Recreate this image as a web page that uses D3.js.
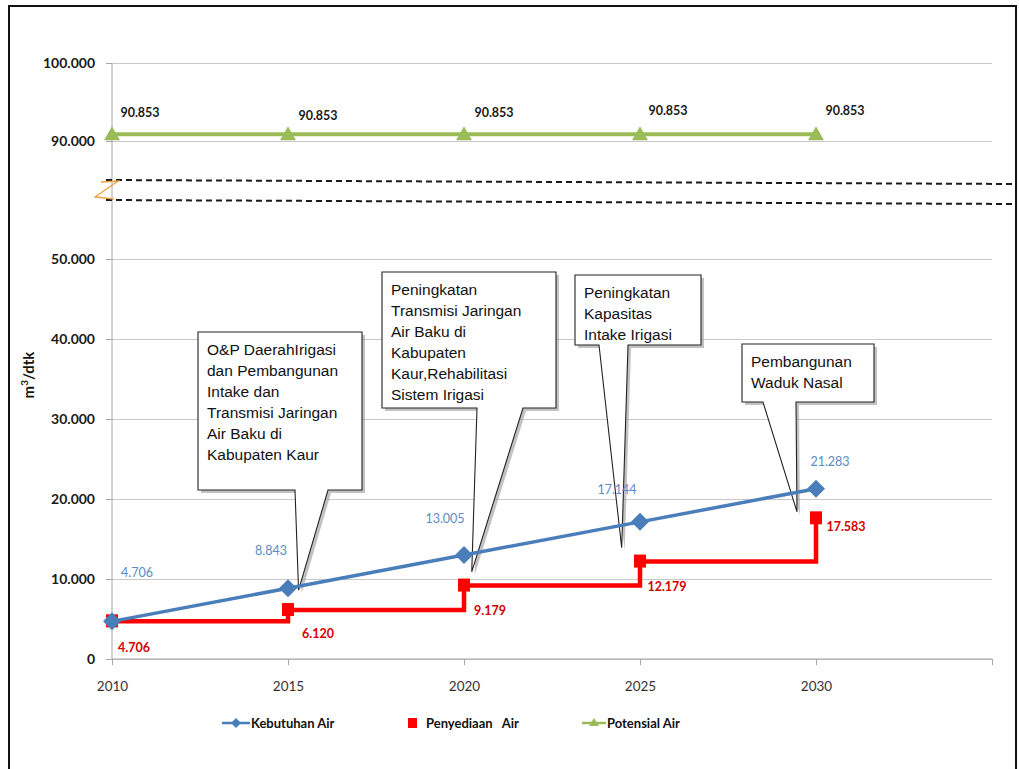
<!DOCTYPE html>
<html>
<head>
<meta charset="utf-8">
<script src="https://cdn.jsdelivr.net/npm/d3@7"></script>
<style>
  body { margin: 0; background: #fff; }
  svg { display: block; }
  .tick line { stroke: #a6a6a6; }
  .grid .tick line { stroke: #c8c8c8; }
  .domain { stroke: #a6a6a6; }
  .callText { font-family: "Liberation Sans", Arial, sans-serif; font-size: 15.5px; fill: #111; }
</style>
</head>
<body>
<div id="chart"></div>
<script>
// data
var years = [2010, 2015, 2020, 2025, 2030];
var kebutuhan = [4706, 8843, 13005, 17144, 21283];
var penyediaan = [4706, 6120, 9179, 12179, 17583];
var potensial = [90853, 90853, 90853, 90853, 90853];
var yTicks = [0, 10000, 20000, 30000, 40000, 50000, 90000, 100000];
var xTicks = [2010, 2015, 2020, 2025, 2030, 2035];
var xLabels = ["2010", "2015", "2020", "2025", "2030"];
var legendNames = ["Kebutuhan Air", "Penyediaan   Air", "Potensial Air"];

// callouts: text lines and the point (year, value) the tail points at
var callText = [
  ["O&P DaerahIrigasi", "dan Pembangunan", "Intake dan", "Transmisi Jaringan", "Air Baku di", "Kabupaten Kaur"],
  ["Peningkatan", "Transmisi Jaringan", "Air Baku di", "Kabupaten", "Kaur,Rehabilitasi", "Sistem Irigasi"],
  ["Peningkatan", "Kapasitas", "Intake Irigasi"],
  ["Pembangunan", "Waduk  Nasal"]
];
var callTip = [[2015.3, 8600], [2020.22, 10900], [2025 - 0.52, 13900], [2030 - 0.54, 18400]];

// layout (pixels): box x, y, w, h, tail left, tail right
var callBox = [
  [198, 332, 164, 158, 295, 328],
  [382, 272, 174, 136, 477, 523],
  [575, 275, 126, 70, 599, 628],
  [742, 344, 132, 58, 763, 796]
];
var kebOff = [[25, -48], [-17, -37], [-19, -36], [-23, -32], [14, -27]];
var penOff = [[22, 27], [30, 24], [26, 25], [27, 25], [30, 9]];
var potOff = [[28, -21], [30, -18], [30, -21], [28, -23], [29, -23]];

var W = 1019, H = 769;
var svg = d3.select("#chart").append("svg").attr("width", W).attr("height", H);

// frame
svg.append("rect").attr("x", 9).attr("y", 6).attr("width", 1007).attr("height", 780)
  .attr("fill", "none").attr("stroke", "#111").attr("stroke-width", 2);

var x = d3.scaleLinear().domain([2010, 2035]).range([112, 992]);
// broken axis: 50.000 -> 90.000 squeezed
var y = d3.scaleLinear().domain([0, 50000, 90000, 100000]).range([659, 259, 141, 63]);

var loc = d3.formatLocale({decimal: ",", thousands: ".", grouping: [3], currency: ["", ""]});
var fmt = loc.format(",.0f");

// gridlines
svg.append("g").attr("class", "grid")
  .attr("transform", "translate(112,0)")
  .call(d3.axisLeft(y).tickValues(yTicks).tickSize(-(992 - 112)).tickFormat(""))
  .call(function (g) { g.select(".domain").remove(); });

// y axis
var yAxis = svg.append("g")
  .attr("transform", "translate(112,0)")
  .call(d3.axisLeft(y).tickValues(yTicks).tickSize(6).tickPadding(11).tickFormat(fmt));
yAxis.selectAll("text")
  .attr("font-family", "Lato, sans-serif").attr("font-size", "14px")
  .attr("font-weight", "bold").attr("fill", "#1a1a1a");
yAxis.select(".domain").attr("d", "M0," + y(100000) + "V" + y(0));

// x axis
var xAxis = svg.append("g")
  .attr("transform", "translate(0," + y(0) + ")")
  .call(d3.axisBottom(x).tickValues(xTicks).tickSize(6).tickPadding(16)
    .tickFormat(function (d, i) { return xLabels[i] || ""; }));
xAxis.selectAll("text")
  .attr("font-family", "Lato, sans-serif").attr("font-size", "13.5px").attr("fill", "#333");
xAxis.select(".domain").attr("d", "M112,0H992");

// axis break
var brk = svg.append("g");
brk.append("line").attr("x1", 106).attr("y1", 180).attr("x2", 1016).attr("y2", 184);
brk.append("line").attr("x1", 106).attr("y1", 200).attr("x2", 1016).attr("y2", 204);
brk.selectAll("line").attr("stroke", "#1a1a1a").attr("stroke-width", 2).attr("stroke-dasharray", "6,4");
brk.append("path").attr("d", "M101,182 L118,181 L95,197 L114,199")
  .attr("fill", "none").attr("stroke", "#f0a040").attr("stroke-width", 1.3);

// y title
svg.append("text")
  .attr("transform", "translate(34,375) rotate(-90)")
  .attr("text-anchor", "middle")
  .attr("font-family", "Lato, sans-serif").attr("font-size", "15px").attr("font-weight", "bold")
  .attr("fill", "#111")
  .call(function (t) {
    t.append("tspan").text("m");
    t.append("tspan").attr("baseline-shift", "super").attr("font-size", "10px").text("3");
    t.append("tspan").text("/dtk");
  });

// callouts
function callPath(b, tip) {
  var bx = b[0], by = b[1], bw = b[2], bh = b[3];
  return "M" + bx + "," + by + "H" + (bx + bw) + "V" + (by + bh) +
    "H" + b[5] + "L" + tip[0] + "," + tip[1] + "L" + b[4] + "," + (by + bh) +
    "H" + bx + "Z";
}
callText.forEach(function (lines, i) {
  var b = callBox[i];
  var tip = [x(callTip[i][0]), y(callTip[i][1])];
  var g = svg.append("g");
  g.append("path").attr("d", callPath(b, tip)).attr("transform", "translate(3,3)")
    .attr("fill", "#9a9a9a").attr("opacity", 0.6);
  g.append("path").attr("d", callPath(b, tip))
    .attr("fill", "#fff").attr("stroke", "#222").attr("stroke-width", 1.1);
  g.selectAll("text").data(lines).enter().append("text")
    .attr("class", "callText")
    .attr("x", b[0] + 9)
    .attr("y", function (d, j) { return b[1] + 23 + j * 21; })
    .text(function (d) { return d; });
});

// Penyediaan (step)
var penPts = years.map(function (d, i) { return [x(d), y(penyediaan[i])]; });
svg.append("path")
  .attr("d", d3.line().curve(d3.curveStepAfter)(penPts))
  .attr("fill", "none").attr("stroke", "#ff0000").attr("stroke-width", 4.5);
svg.selectAll("rect.pen").data(penPts).enter().append("rect")
  .attr("class", "pen")
  .attr("x", function (d) { return d[0] - 6; }).attr("y", function (d) { return d[1] - 7; })
  .attr("width", 12).attr("height", 13).attr("fill", "#ff0000");

// Kebutuhan
var kebPts = years.map(function (d, i) { return [x(d), y(kebutuhan[i])]; });
svg.append("path")
  .attr("d", d3.line()(kebPts))
  .attr("fill", "none").attr("stroke", "#4a7ebb").attr("stroke-width", 3.5);
svg.selectAll("path.keb").data(kebPts).enter().append("path")
  .attr("class", "keb")
  .attr("transform", function (d) { return "translate(" + d[0] + "," + d[1] + ")"; })
  .attr("d", "M0,-9L9,0L0,9L-9,0Z").attr("fill", "#4a7ebb");

// Potensial
var potPts = years.map(function (d, i) { return [x(d), y(potensial[i])]; });
svg.append("path")
  .attr("d", d3.line()(potPts))
  .attr("fill", "none").attr("stroke", "#9bbb59").attr("stroke-width", 4);
svg.selectAll("path.pot").data(potPts).enter().append("path")
  .attr("class", "pot")
  .attr("transform", function (d) { return "translate(" + d[0] + "," + d[1] + ")"; })
  .attr("d", "M0,-8L8,6L-8,6Z").attr("fill", "#9bbb59");

// value labels
function labels(pts, vals, off, color, weight) {
  svg.append("g").selectAll("text").data(pts).enter().append("text")
    .attr("x", function (d, i) { return d[0] + off[i][0]; })
    .attr("y", function (d, i) { return d[1] + off[i][1] + 4; })
    .attr("text-anchor", "middle")
    .attr("font-family", "Lato, sans-serif").attr("font-size", "12.5px")
    .attr("font-weight", weight).attr("fill", color)
    .text(function (d, i) { return fmt(vals[i]); });
}
labels(kebPts, kebutuhan, kebOff, "#5b8ac4", "normal");
labels(penPts, penyediaan, penOff, "#d40000", "bold");
labels(potPts, potensial, potOff, "#1a1a1a", "bold");

// legend
var leg = svg.append("g").attr("font-family", "Lato, sans-serif").attr("font-size", "13px")
  .attr("font-weight", "bold").attr("fill", "#111");
var ly = 723;
leg.append("line").attr("x1", 222).attr("x2", 250).attr("y1", ly).attr("y2", ly)
  .attr("stroke", "#4a7ebb").attr("stroke-width", 2.5);
leg.append("path").attr("transform", "translate(236," + ly + ")").attr("d", "M0,-5L5,0L0,5L-5,0Z").attr("fill", "#4a7ebb");
leg.append("rect").attr("x", 408).attr("y", ly - 5).attr("width", 9).attr("height", 10).attr("fill", "#ff0000");
leg.append("line").attr("x1", 582).attr("x2", 606).attr("y1", ly).attr("y2", ly)
  .attr("stroke", "#9bbb59").attr("stroke-width", 2.5);
leg.append("path").attr("transform", "translate(594," + ly + ")").attr("d", "M0,-5L5,3L-5,3Z").attr("fill", "#9bbb59");
var legX = [251, 426, 607];
leg.selectAll("text").data(legendNames).enter().append("text")
  .attr("x", function (d, i) { return legX[i]; }).attr("y", ly + 5)
  .attr("xml:space", "preserve").style("white-space", "pre")
  .text(function (d) { return d; });
</script>
</body>
</html>
